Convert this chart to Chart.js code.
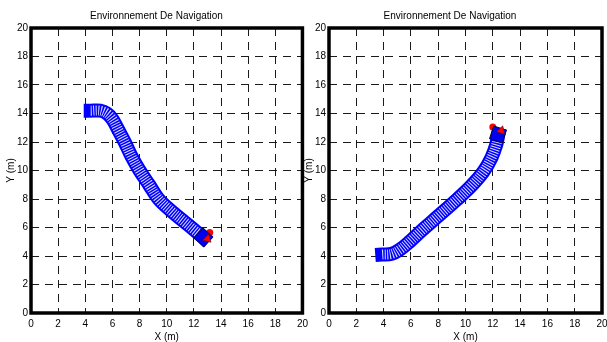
<!DOCTYPE html>
<html><head><meta charset="utf-8">
<script src="https://cdn.jsdelivr.net/npm/chart.js@4"></script>
<style>
html,body{margin:0;padding:0;background:#fff;overflow:hidden;width:607px;height:342px;}
canvas{position:absolute;top:0;}
#c1{left:0;}
#c2{left:298px;}
</style></head>
<body>
<canvas id="c1" width="313" height="342"></canvas>
<canvas id="c2" width="320" height="342"></canvas>
<script>
// ---- data ----
const chartTitle = 'Environnement De Navigation';
const xAxisLabel = 'X (m)';
const yAxisLabel = 'Y (m)';
const axisTicks = [0, 2, 4, 6, 8, 10, 12, 14, 16, 18, 20];

// left panel: trajectory centre line (metres)
const leftPathX = [4.4, 5.1, 5.6, 6.0, 6.4, 6.9, 7.4, 8.0, 8.7, 9.4, 10.4, 11.3, 12.0, 12.7];
const leftPathY = [14.2, 14.2, 14.0, 13.6, 12.9, 12.0, 11.0, 10.0, 9.0, 8.0, 7.1, 6.4, 5.85, 5.3];
const leftRobot = [12.7, 5.3];
const leftArrow = [13.0, 5.2];
const leftTarget = [13.17, 5.65];

// right panel: trajectory centre line (metres)
const rightPathX = [3.9, 4.6, 5.2, 5.9, 6.8, 8.0, 9.3, 10.4, 11.3, 11.9, 12.25, 12.4];
const rightPathY = [4.1, 4.15, 4.45, 5.0, 5.8, 6.8, 7.9, 8.9, 9.9, 10.9, 11.8, 12.5];
const rightRobot = [12.38, 12.53];
const rightArrow = [12.62, 12.8];
const rightTarget = [12.0, 13.05];

// ---- styling ----
const FONT = {family: "'Liberation Sans Narrow', 'Liberation Sans', Arial, sans-serif", size: 10, weight: 'normal'};
const TITLE_FONT = {family: FONT.family, size: 10, weight: 'normal', lineHeight: 1.0};

const framePlugin = {
  id: 'frame',
  afterDraw(chart) {
    const {ctx, chartArea: a} = chart;
    ctx.save();
    ctx.lineWidth = 3.5;
    ctx.strokeStyle = '#000';
    ctx.strokeRect(a.left, a.top, a.right - a.left, a.bottom - a.top);
    ctx.restore();
  }
};

function toPts(xs, ys) { return xs.map((x, i) => ({x: x, y: ys[i]})); }

function axis(label, isX) {
  return {
    type: 'linear', min: 0, max: 20,
    afterBuildTicks: s => { s.ticks = axisTicks.map(v => ({value: v})); },
    ticks: {font: FONT, color: '#000', padding: isX ? 5 : 3, maxRotation: 0, autoSkip: false},
    grid: {color: '#1a1a1a', lineWidth: 1, drawTicks: false},
    border: {display: false, dash: [8, 6]},
    title: {display: true, text: label, font: TITLE_FONT, color: '#000', padding: {top: isX ? 0 : 6, bottom: 0}},
    afterFit: s => { if (isX) s.height = 29; else s.width = 31; }
  };
}

function makeChart(id, px, py, robot, arrow, target, heading, rightPad) {
  const pts = toPts(px, py);
  new Chart(document.getElementById(id), {
    type: 'scatter',
    data: {
      datasets: [
        {data: pts, showLine: true, borderColor: '#0000ff', borderWidth: 14, pointRadius: 0,
         tension: 0.35, borderCapStyle: 'square', borderJoinStyle: 'round', order: 5},
        {data: pts, showLine: true, borderColor: 'rgba(255,255,255,0.85)', borderWidth: 10, pointRadius: 0,
         tension: 0.35, borderCapStyle: 'butt', borderDash: [1, 1.5], order: 4},
        {data: [{x: target[0], y: target[1]}], pointStyle: 'circle', pointRadius: 3.5,
         backgroundColor: '#ff0000', borderColor: '#ff0000', borderWidth: 0, order: 3},
        {data: [{x: robot[0], y: robot[1]}], pointStyle: 'rect', rotation: heading, pointRadius: 9.5,
         backgroundColor: '#0000ee', borderColor: '#000033', borderWidth: 1, order: 2},
        {data: [{x: arrow[0], y: arrow[1]}], pointStyle: 'triangle', rotation: heading + 90, pointRadius: 5,
         backgroundColor: '#ff0000', borderColor: '#550000', borderWidth: 0.5, order: 1}
      ]
    },
    options: {
      responsive: false, animation: false, devicePixelRatio: 1, events: [],
      layout: {autoPadding: false, padding: {left: 0, right: rightPad, top: 0, bottom: 0}},
      plugins: {
        legend: {display: false}, tooltip: {enabled: false},
        title: {display: true, text: chartTitle, font: FONT, color: '#000', padding: {top: 10, bottom: 6}}
      },
      scales: {x: axis(xAxisLabel, true), y: axis(yAxisLabel, false)}
    },
    plugins: [framePlugin]
  });
}

makeChart('c1', leftPathX, leftPathY, leftRobot, leftArrow, leftTarget, 44, 0);
makeChart('c2', rightPathX, rightPathY, rightRobot, rightArrow, rightTarget, -72, 16);
</script>
</body></html>
